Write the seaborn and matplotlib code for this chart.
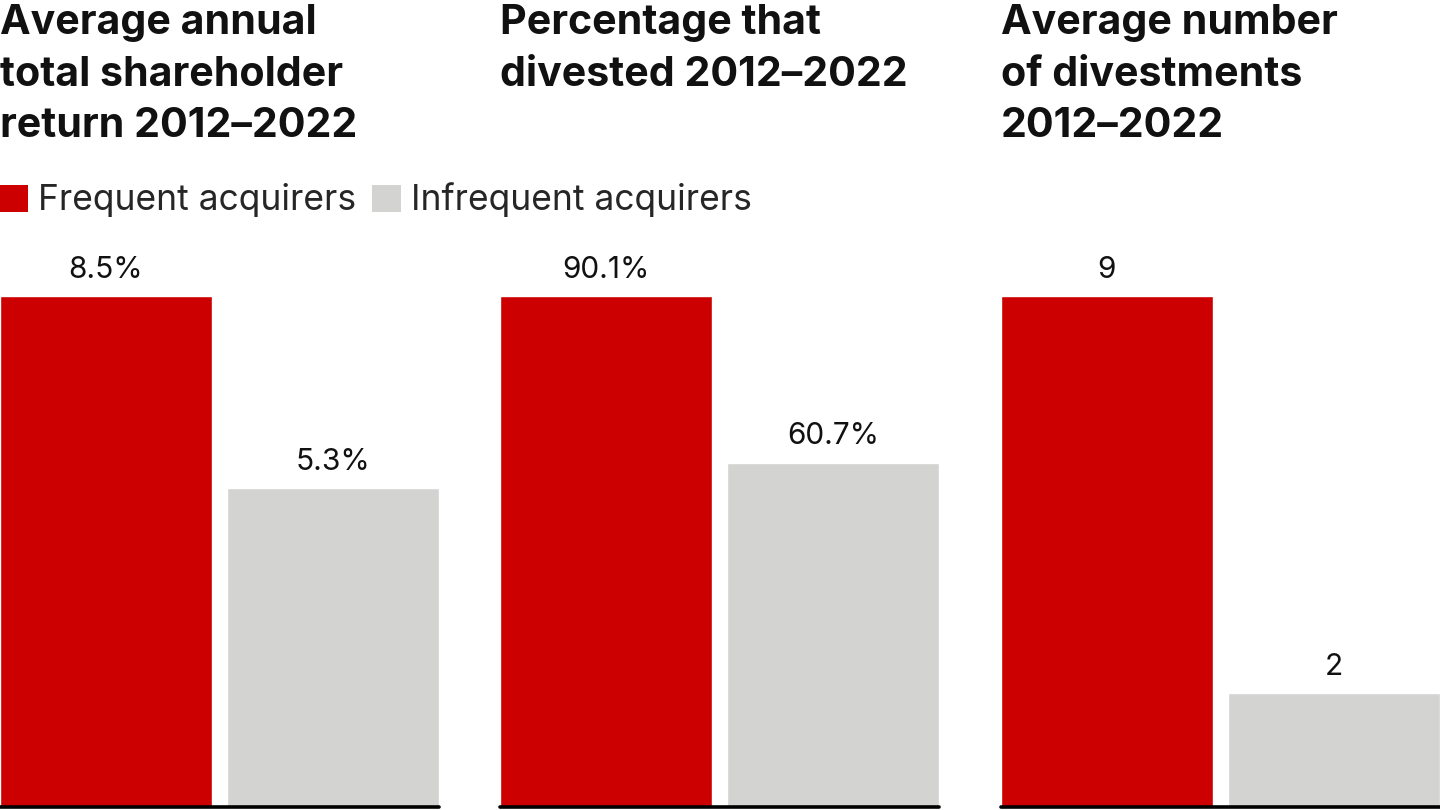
import matplotlib
matplotlib.use("Agg")
import matplotlib.pyplot as plt
import seaborn as sns
import pandas as pd
from matplotlib.patches import Patch

# data
groups = ["Frequent acquirers", "Infrequent acquirers"]
titles = ["Average annual\ntotal shareholder\nreturn 2012–2022",
          "Percentage that\ndivested 2012–2022",
          "Average number\nof divestments\n2012–2022"]
tsr = [8.5, 5.3]
divested_pct = [90.1, 60.7]
divestments = [9, 2]
formats = ["{:.1f}%", "{:.1f}%", "{:.0f}"]

colors = ["#CC0000", "#D3D3D1"]

sns.set_style("white")
plt.rcParams["font.family"] = ["Inter", "DejaVu Sans"]

fig = plt.figure(figsize=(14.4, 8.1), dpi=100)
W, H = 1440, 810
lefts = [0, 500, 1001]
panel_w = 439
bottom_px = 3
top_px = 250
max_bar_px = 511

series = [tsr, divested_pct, divestments]
for i, vals in enumerate(series):
    ax = fig.add_axes([lefts[i] / W, bottom_px / H, panel_w / W, (810 - top_px - bottom_px) / H])
    df = pd.DataFrame({"group": groups, "value": vals})
    sns.barplot(data=df, x="group", y="value", hue="group", palette=colors,
                width=0.93, legend=False, ax=ax, saturation=1)
    ax.set_xlim(-0.465, 1.465)
    ax.set_ylim(0, max(vals) * (810 - top_px - bottom_px) / max_bar_px)
    for c in ax.containers:
        ax.bar_label(c, labels=[formats[i].format(v) for v in c.datavalues],
                     padding=9, fontsize=21.5, color="#111111")
    ax.axhline(0, color="black", lw=2.6, clip_on=False)
    sns.despine(ax=ax, left=True, bottom=True)
    ax.set_xticks([])
    ax.set_yticks([])
    ax.set_xlabel("")
    ax.set_ylabel("")
    fig.text(lefts[i] / W, 1 - 4 / H, titles[i], ha="left", va="top",
             fontsize=29.6, fontweight="bold", linespacing=1.45, color="#111111")

handles = [Patch(facecolor=c, edgecolor="none") for c in colors]
fig.legend(handles, groups, loc="center left", bbox_to_anchor=(0, 1 - 200 / H),
           ncol=2, frameon=False, fontsize=25.5, handlelength=0.8, handleheight=0.8,
           handletextpad=0.28, columnspacing=0.45, borderpad=0, borderaxespad=0)

fig.savefig("out.png", dpi=100)
